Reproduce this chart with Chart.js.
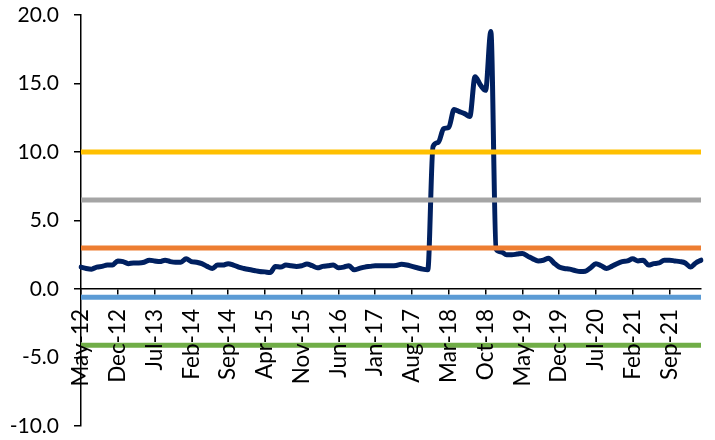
<!DOCTYPE html>
<html>
<head>
<meta charset="utf-8">
<script src="https://cdn.jsdelivr.net/npm/chart.js@4.4.1/dist/chart.umd.min.js"></script>
<style>
  html, body { margin: 0; padding: 0; background: #ffffff; }
  canvas { display: block; }
</style>
</head>
<body>
<canvas id="myChart" width="715" height="440"></canvas>
<script>
// monthly categories, May-12 .. Mar-22
const months = [
  'May-12','Jun-12','Jul-12','Aug-12','Sep-12','Oct-12','Nov-12','Dec-12',
  'Jan-13','Feb-13','Mar-13','Apr-13','May-13','Jun-13','Jul-13','Aug-13','Sep-13','Oct-13','Nov-13','Dec-13',
  'Jan-14','Feb-14','Mar-14','Apr-14','May-14','Jun-14','Jul-14','Aug-14','Sep-14','Oct-14','Nov-14','Dec-14',
  'Jan-15','Feb-15','Mar-15','Apr-15','May-15','Jun-15','Jul-15','Aug-15','Sep-15','Oct-15','Nov-15','Dec-15',
  'Jan-16','Feb-16','Mar-16','Apr-16','May-16','Jun-16','Jul-16','Aug-16','Sep-16','Oct-16','Nov-16','Dec-16',
  'Jan-17','Feb-17','Mar-17','Apr-17','May-17','Jun-17','Jul-17','Aug-17','Sep-17','Oct-17','Nov-17','Dec-17',
  'Jan-18','Feb-18','Mar-18','Apr-18','May-18','Jun-18','Jul-18','Aug-18','Sep-18','Oct-18','Nov-18','Dec-18',
  'Jan-19','Feb-19','Mar-19','Apr-19','May-19','Jun-19','Jul-19','Aug-19','Sep-19','Oct-19','Nov-19','Dec-19',
  'Jan-20','Feb-20','Mar-20','Apr-20','May-20','Jun-20','Jul-20','Aug-20','Sep-20','Oct-20','Nov-20','Dec-20',
  'Jan-21','Feb-21','Mar-21','Apr-21','May-21','Jun-21','Jul-21','Aug-21','Sep-21','Oct-21','Nov-21','Dec-21',
  'Jan-22','Feb-22','Mar-22'
];

const rates = [
  1.6, 1.5, 1.45, 1.6, 1.65, 1.75, 1.75, 2.05,
  2.0, 1.85, 1.9, 1.9, 1.95, 2.1, 2.05, 2.0, 2.1, 2.0, 1.95, 1.95,
  2.2, 2.0, 1.95, 1.85, 1.65, 1.5, 1.75, 1.75, 1.85, 1.75, 1.6, 1.5,
  1.42, 1.35, 1.28, 1.25, 1.2, 1.65, 1.6, 1.75, 1.7, 1.65, 1.7, 1.82,
  1.7, 1.55, 1.65, 1.7, 1.75, 1.55, 1.6, 1.7, 1.4, 1.5, 1.6, 1.65,
  1.7, 1.7, 1.7, 1.7, 1.72, 1.8, 1.75, 1.65, 1.55, 1.45, 1.4, 10.4,
  10.7, 11.7, 11.8, 13.1, 12.95, 12.8, 12.6, 15.5, 14.9, 14.5, 18.8, 2.9,
  2.7, 2.5, 2.5, 2.55, 2.6, 2.4, 2.2, 2.05, 2.1, 2.25, 1.9, 1.6,
  1.5, 1.45, 1.35, 1.28, 1.3, 1.55, 1.85, 1.7, 1.5, 1.65, 1.85, 2.0,
  2.05, 2.2, 2.05, 2.1, 1.75, 1.85, 1.9, 2.1, 2.1, 2.05, 2.0, 1.9,
  1.6, 1.9, 2.1
];

// reference levels drawn as flat lines
const levelValues = [10, 6.5, 3, -0.6, -4.1];
const levelColors = ['#FFC000', '#A5A5A5', '#ED7D31', '#5B9BD5', '#70AD47'];

const yTicks = { min: -10, max: 20, step: 5 };
const labelEvery = 7;

const first = months[0];
const last = months[months.length - 1];

const levelSets = levelValues.map((v, i) => ({
  data: [{ x: first, y: v }, { x: last, y: v }],
  borderColor: levelColors[i],
  borderWidth: 5,
  pointRadius: 0,
  tension: 0
}));

let ctx = document.getElementById('myChart').getContext('2d');

const lineChart = new Chart(ctx, {
  type: 'line',
  data: {
    labels: months,
    datasets: [
      ...levelSets,
      {
        data: rates,
        borderColor: '#002060',
        borderWidth: 5,
        pointRadius: 0,
        cubicInterpolationMode: 'monotone',
        borderCapStyle: 'round',
        borderJoinStyle: 'round'
      }
    ]
  },
  options: {
    responsive: false,
    animation: false,
    layout: { padding: { left: 0, right: 14, top: 15, bottom: 14 } },
    scales: {
      x: {
        type: 'category',
        offset: false,
        position: { y: 0 },
        afterFit: s => { s.height = 0; s.paddingLeft = 0; s.paddingRight = 0; },
        afterBuildTicks: s => {
          s.ticks = s.ticks.filter((t, i) => i % labelEvery === 0);
        },
        grid: { drawOnChartArea: false, color: '#000', tickLength: 5, lineWidth: 1.5 },
        border: { color: '#000', width: 1.5 },
        ticks: {
          autoSkip: false,
          maxRotation: 90,
          minRotation: 90,
          padding: 15,
          color: '#000',
          font: { family: 'Lato', size: 22.5 },
          z: 1
        }
      },
      y: {
        min: yTicks.min,
        max: yTicks.max,
        afterFit: s => { s.width = 81; s.paddingTop = 0; s.paddingBottom = 0; },
        grid: { drawOnChartArea: false, color: '#000', tickLength: 7, lineWidth: 1.5 },
        border: { color: '#000', width: 1.5 },
        ticks: {
          stepSize: yTicks.step,
          padding: 15,
          color: '#000',
          font: { family: 'Lato', size: 21 },
          callback: v => v.toFixed(1)
        }
      }
    },
    plugins: {
      legend: { display: false },
      tooltip: { enabled: false }
    }
  }
});
</script>
</body>
</html>
